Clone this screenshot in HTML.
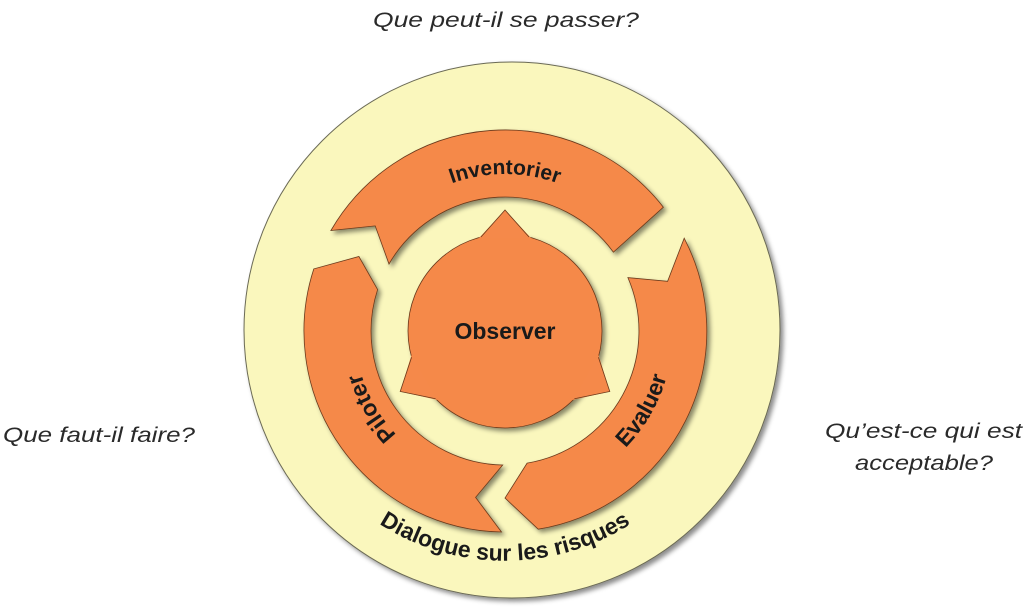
<!DOCTYPE html>
<html><head><meta charset="utf-8"><style>
html,body{margin:0;padding:0;background:#fff;}
svg{display:block;}
.it{font-family:"Liberation Sans",sans-serif;font-style:italic;font-size:21px;fill:#2a2a2a;}
.b{font-family:"Liberation Sans Narrow","Liberation Sans",sans-serif;font-weight:bold;font-size:21px;fill:#1a1a1a;}
.b2{font-family:"Liberation Sans Narrow","Liberation Sans",sans-serif;font-weight:bold;font-size:23px;fill:#1a1a1a;}
</style></head><body>
<svg width="1024" height="616" viewBox="0 0 1024 616" xmlns="http://www.w3.org/2000/svg">
<defs>
<filter id="sh" x="-20%" y="-20%" width="140%" height="140%">
<feDropShadow dx="3" dy="3" stdDeviation="2.5" flood-color="#000" flood-opacity="0.45"/>
</filter>
<path id="pInv" d="M348,331 A157,157 0 0 1 662,331"/>
<path id="pPil" d="M505,481 A150,150 0 0 1 375.1,256"/>
<path id="pEva" d="M505,499 A168,168 0 0 0 650.5,247"/>
<path id="pDia" d="M287,410 A233,233 0 0 0 723,410"/>
</defs>

<text class="it" x="506" y="27" text-anchor="middle" textLength="266" lengthAdjust="spacingAndGlyphs">Que peut-il se passer?</text>
<text class="it" x="3" y="442" textLength="192" lengthAdjust="spacingAndGlyphs">Que faut-il faire?</text>
<text class="it" x="825" y="438" textLength="197" lengthAdjust="spacingAndGlyphs">Qu’est-ce qui est</text>
<text class="it" x="855" y="470" textLength="138" lengthAdjust="spacingAndGlyphs">acceptable?</text>

<circle cx="512" cy="330" r="268" fill="#FAF7BD" stroke="#6b6a55" stroke-width="1" filter="url(#sh)"/>

<g fill="#F5894A" stroke="#6a3a1c" stroke-width="0.8" filter="url(#sh)">
<path d="M330.9,230.5 A201,201 0 0 1 663.4,207.2 L613.4,252.2 A134,134 0 0 0 389,264 L375.2,225.9 Z"/>
<path d="M684.2,238.2 A201,201 0 0 1 538.2,529.2 L505,498 L527.1,463.1 A134,134 0 0 0 627.9,277.6 L667.6,281.3 Z"/>
<path d="M501.5,532 A201,201 0 0 1 313.8,268.9 L358.9,256.5 L377.6,289.6 A134,134 0 0 0 502.7,465 L475.6,497.4 Z"/>
<circle cx="505" cy="331" r="97"/>
</g>
<g fill="#F5894A">
<path id="spk" d="M479,238 L505,210 L531,238 Z"/>
<use href="#spk" transform="rotate(120 505 331)"/>
<use href="#spk" transform="rotate(240 505 331)"/>
</g>
<g fill="none" stroke="#6a3a1c" stroke-width="0.8">
<path d="M481,237 L505,210 L529,237"/>
<path d="M481,237 L505,210 L529,237" transform="rotate(120 505 331)"/>
<path d="M481,237 L505,210 L529,237" transform="rotate(240 505 331)"/>
</g>

<text class="b" text-anchor="middle"><textPath href="#pInv" startOffset="50%">Inventorier</textPath></text>
<text class="b2" text-anchor="middle"><textPath href="#pPil" startOffset="50%">Piloter</textPath></text>
<text class="b2" text-anchor="middle"><textPath href="#pEva" startOffset="50%">Evaluer</textPath></text>
<text class="b2" text-anchor="middle"><textPath href="#pDia" startOffset="50%">Dialogue sur les risques</textPath></text>
<text class="b2" x="505" y="339" text-anchor="middle">Observer</text>
</svg>
</body></html>
